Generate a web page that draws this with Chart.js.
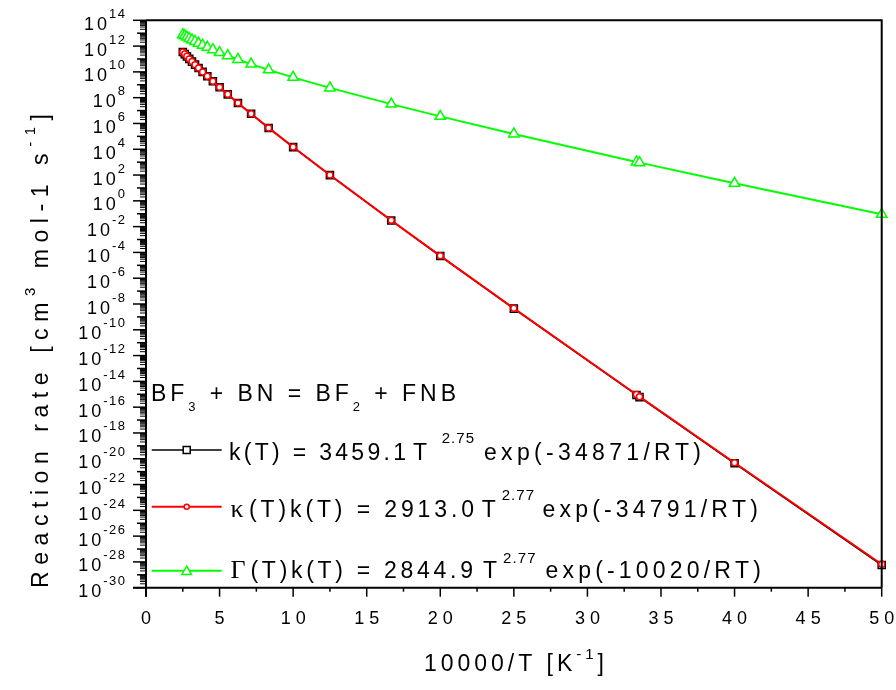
<!DOCTYPE html>
<html>
<head>
<meta charset="utf-8">
<script src="https://cdn.jsdelivr.net/npm/chart.js@4.4.0/dist/chart.umd.min.js"></script>
<style>
  html, body { margin: 0; padding: 0; background: #fff; }
  #wrap { width: 896px; height: 690px; }
</style>
</head>
<body>
<div id="wrap"><canvas id="rate" width="896" height="690"></canvas></div>
<script>
// 10000/T for T = 4000 ... 200 K
const invT = [2.5, 2.632, 2.778, 2.941, 3.125, 3.333, 3.571, 3.846, 4.167, 4.545, 5.0, 5.556,
              6.25, 7.143, 8.333, 10.0, 12.5, 16.667, 20.0, 25.0, 33.333, 33.540, 40.0, 50.0];

// k(T), cm3 mol-1 s-1
const kT = [3.46e11, 2.39e11, 1.59e11, 1.02e11, 6.26e10, 3.64e10, 1.98e10, 9.97e9, 4.56e9, 1.85e9,
            6.40e8, 1.81e8, 3.86e7, 5.58e6, 4.52e5, 1.47e4, 98.9, 2.99e-2, 5.22e-5, 4.37e-9,
            8.82e-16, 6.03e-16, 4.43e-21, 5.73e-29];
// kappa(T)k(T)
const kappaK = [3.48e11, 2.39e11, 1.60e11, 1.02e11, 6.27e10, 3.64e10, 1.98e10, 9.98e9, 4.56e9, 1.85e9,
                6.40e8, 1.81e8, 3.87e7, 5.59e6, 4.54e5, 1.48e4, 100.2, 3.06e-2, 5.40e-5, 4.59e-9,
                9.52e-16, 6.52e-16, 4.90e-21, 6.57e-29];
// Gamma(T)k(T)
const gammaK = [7.66e12, 6.22e12, 4.97e12, 3.91e12, 3.01e12, 2.27e12, 1.66e12, 1.18e12, 8.03e11, 5.21e11,
                3.18e11, 1.80e11, 9.14e10, 4.02e10, 1.44e10, 3.75e9, 5.73e8, 3.16e7, 3.55e6, 1.54e5,
                1.04e3, 9.18e2, 23.0, 9.0e-2];

const xTicks = [0, 5, 10, 15, 20, 25, 30, 35, 40, 45, 50];
const yTickExp = [14, 12, 10, 8, 6, 4, 2, 0, -2, -4, -6, -8, -10, -12, -14, -16, -18, -20,
                  -22, -24, -26, -28, -30];

const SANS = "'Liberation Sans', Arial, sans-serif";
const SERIF = "'Liberation Serif', 'Times New Roman', serif";

function pts(ys) { return invT.map((x, i) => ({ x: x, y: ys[i] })); }

// draw text char by char with extra letter spacing
function spaced(ctx, text, x, y, sp) {
  for (const ch of text) {
    ctx.fillText(ch, x, y);
    x += ctx.measureText(ch).width + sp;
  }
  return x - sp;
}
function spacedWidth(ctx, text, sp) {
  let w = 0, n = 0;
  for (const ch of text) { w += ctx.measureText(ch).width; n++; }
  return w + sp * Math.max(0, n - 1);
}
// spread a string between x0 and x1
function fitted(ctx, text, x0, x1, y) {
  const n = [...text].length;
  const sp = n > 1 ? (x1 - x0 - spacedWidth(ctx, text, 0)) / (n - 1) : 0;
  return spaced(ctx, text, x0, y, sp);
}
// runs of mixed fonts (sub/superscripts) spread over a given length
function runsFitted(ctx, runs, x0, len, y) {
  let nat = 0, n = 0;
  runs.forEach(r => { ctx.font = r.font; nat += spacedWidth(ctx, r.t, 0); n += [...r.t].length; });
  const sp = (len - nat) / (n - 1);
  let x = x0;
  runs.forEach(r => { ctx.font = r.font; x = spaced(ctx, r.t, x, y + (r.dy || 0), sp) + sp; });
}

const axesPlugin = {
  id: 'axesPlugin',
  beforeDraw(chart) {
    const ctx = chart.ctx;
    ctx.save();
    ctx.fillStyle = '#fff';
    ctx.fillRect(0, 0, chart.width, chart.height);
    ctx.restore();
  },
  afterDraw(chart) {
    const ctx = chart.ctx;
    const xs = chart.scales.x, ys = chart.scales.y;
    const a = chart.chartArea;
    ctx.save();
    ctx.strokeStyle = '#000';
    ctx.fillStyle = '#000';
    ctx.textBaseline = 'alphabetic';

    // frame
    ctx.lineWidth = 2;
    ctx.beginPath();
    ctx.moveTo(a.left, a.top); ctx.lineTo(a.right, a.top); ctx.lineTo(a.right, a.bottom);
    ctx.stroke();

    // y ticks: decades and minor 2..9
    for (let e = -30; e <= 14; e++) {
      for (let m = 1; m <= 9; m++) {
        if (e === 14 && m > 1) break;
        const py = ys.getPixelForValue(m * Math.pow(10, e));
        const len = m === 1 ? (e % 2 === 0 ? 13 : 9) : 6;
        ctx.lineWidth = m === 1 ? 1.5 : 1;
        ctx.beginPath();
        ctx.moveTo(a.left - len, py); ctx.lineTo(a.left, py);
        ctx.stroke();
      }
    }
    // x ticks
    ctx.lineWidth = 1.5;
    xTicks.forEach((v, i) => {
      const px = xs.getPixelForValue(v);
      ctx.beginPath(); ctx.moveTo(px, a.bottom); ctx.lineTo(px, a.bottom + 9); ctx.stroke();
      if (i < xTicks.length - 1) {
        const pm = xs.getPixelForValue((v + xTicks[i + 1]) / 2);
        ctx.beginPath(); ctx.moveTo(pm, a.bottom); ctx.lineTo(pm, a.bottom + 4); ctx.stroke();
      }
    });

    // axis lines
    ctx.lineWidth = 2;
    ctx.beginPath();
    ctx.moveTo(a.left, a.top); ctx.lineTo(a.left, a.bottom + 9);
    ctx.moveTo(a.left - 13, a.bottom); ctx.lineTo(a.right, a.bottom);
    ctx.stroke();

    // x tick labels
    ctx.font = '18px ' + SANS;
    xTicks.forEach(v => {
      const t = String(v);
      const w = spacedWidth(ctx, t, 5);
      spaced(ctx, t, xs.getPixelForValue(v) - w / 2, a.bottom + 36, 5);
    });

    // y tick labels 10^n
    yTickExp.forEach(e => {
      const py = ys.getPixelForValue(Math.pow(10, e));
      const et = String(e);
      ctx.font = '13px ' + SANS;
      const ew = spacedWidth(ctx, et, 1.5);
      const ex = 125 - ew;
      spaced(ctx, et, ex, py - 2.5, 1.5);
      ctx.font = '18px ' + SANS;
      const bw = spacedWidth(ctx, '10', 3);
      spaced(ctx, '10', ex - 2 - bw, py + 9.5, 3);
    });

    const main = '23px ' + SANS, small = '15px ' + SANS;

    // x title
    runsFitted(ctx, [
      { t: '10000/T [K', font: main },
      { t: '-1', font: small, dy: -12 },
      { t: ']', font: main }
    ], 424, 180, 671);

    // y title
    ctx.save();
    ctx.translate(48, 588);
    ctx.rotate(-Math.PI / 2);
    runsFitted(ctx, [
      { t: 'Reaction rate [cm', font: main },
      { t: '3', font: small, dy: -13 },
      { t: ' mol-1 s', font: main },
      { t: '-1', font: small, dy: -13 },
      { t: ']', font: main }
    ], 0, 474, 0);
    ctx.restore();

    // reaction label
    runsFitted(ctx, [
      { t: 'BF', font: main },
      { t: '3', font: '13px ' + SANS, dy: 10 },
      { t: ' + BN = BF', font: main },
      { t: '2', font: '13px ' + SANS, dy: 10 },
      { t: ' + FNB', font: main }
    ], 151, 305, 400.5);

    // legend samples
    const lx0 = 151.7, lx1 = 221.7, lm = 186.7;
    const rows = [450, 506.7, 570.7];
    ctx.lineWidth = 1.5;
    ctx.strokeStyle = '#000';
    ctx.beginPath(); ctx.moveTo(lx0, rows[0]); ctx.lineTo(lx1, rows[0]); ctx.stroke();
    ctx.fillStyle = '#fff';
    ctx.fillRect(lm - 3.5, rows[0] - 3.5, 7, 7);
    ctx.strokeRect(lm - 3.5, rows[0] - 3.5, 7, 7);

    ctx.lineWidth = 2;
    ctx.strokeStyle = '#ff0000';
    ctx.beginPath(); ctx.moveTo(lx0, rows[1]); ctx.lineTo(lx1, rows[1]); ctx.stroke();
    ctx.lineWidth = 1.5;
    ctx.beginPath(); ctx.arc(lm, rows[1], 2.5, 0, Math.PI * 2); ctx.fill(); ctx.stroke();

    ctx.lineWidth = 2;
    ctx.strokeStyle = '#00ff00';
    ctx.beginPath(); ctx.moveTo(lx0, rows[2]); ctx.lineTo(lx1, rows[2]); ctx.stroke();
    ctx.lineWidth = 1.5;
    ctx.beginPath();
    for (let k = 0; k < 3; k++) {
      const ang = k * 2 * Math.PI / 3;
      const px = lm + Math.sin(ang) * 5.5, py = rows[2] + 1 - Math.cos(ang) * 5.5;
      k === 0 ? ctx.moveTo(px, py) : ctx.lineTo(px, py);
    }
    ctx.closePath(); ctx.fill(); ctx.stroke();

    // legend text
    ctx.fillStyle = '#000';
    ctx.font = main;
    fitted(ctx, 'k(T) = 3459.1', 229, 406, 460);
    ctx.fillText('T', 413, 460);
    fitted(ctx, 'exp(-34871/RT)', 484, 701, 460);
    ctx.font = small;
    fitted(ctx, '2.75', 441.7, 474, 443);

    ctx.font = '26px ' + SERIF;
    ctx.fillText('\u03BA', 230.5, 517);
    ctx.font = main;
    fitted(ctx, '(T)k(T) = 2913.0', 249, 474, 517);
    ctx.fillText('T', 481.7, 517);
    fitted(ctx, 'exp(-34791/RT)', 542.5, 758, 517);
    ctx.font = small;
    fitted(ctx, '2.77', 501.7, 534, 500);

    ctx.font = '26px ' + SERIF;
    ctx.fillText('\u0393', 230.5, 578);
    ctx.font = main;
    fitted(ctx, '(T)k(T) = 2844.9', 250.5, 473, 578);
    ctx.fillText('T', 483, 578);
    fitted(ctx, 'exp(-10020/RT)', 545.5, 761, 578);
    ctx.font = small;
    fitted(ctx, '2.77', 503, 535.5, 563);

    ctx.restore();
  }
};

new Chart(document.getElementById('rate'), {
  type: 'line',
  data: {
    datasets: [
      {
        label: 'kappa(T)k(T)', data: pts(kappaK), order: 0, clip: false,
        borderColor: '#ff0000', borderWidth: 2,
        pointStyle: 'circle', pointRadius: 3, pointBorderWidth: 1.5,
        pointBorderColor: '#ff0000', pointBackgroundColor: '#fff'
      },
      {
        label: 'k(T)', data: pts(kT), order: 1, clip: false,
        borderColor: '#000', borderWidth: 1.5,
        pointStyle: 'rect', pointRadius: 5, pointBorderWidth: 1.5,
        pointBorderColor: '#000', pointBackgroundColor: '#fff'
      },
      {
        label: 'Gamma(T)k(T)', data: pts(gammaK), order: 2, clip: false,
        borderColor: '#00ff00', borderWidth: 2,
        pointStyle: 'triangle', pointRadius: 6, pointBorderWidth: 1.5,
        pointBorderColor: '#00ff00', pointBackgroundColor: '#fff'
      }
    ]
  },
  options: {
    responsive: false,
    animation: false,
    events: [],
    layout: { padding: { left: 146, right: 14.3, top: 20.3, bottom: 102.3 } },
    scales: {
      x: { type: 'linear', min: 0, max: 50, display: false },
      y: { type: 'logarithmic', min: 1e-30, max: 1e14, display: false }
    },
    plugins: { legend: { display: false }, tooltip: { enabled: false } }
  },
  plugins: [axesPlugin]
});
</script>
</body>
</html>
